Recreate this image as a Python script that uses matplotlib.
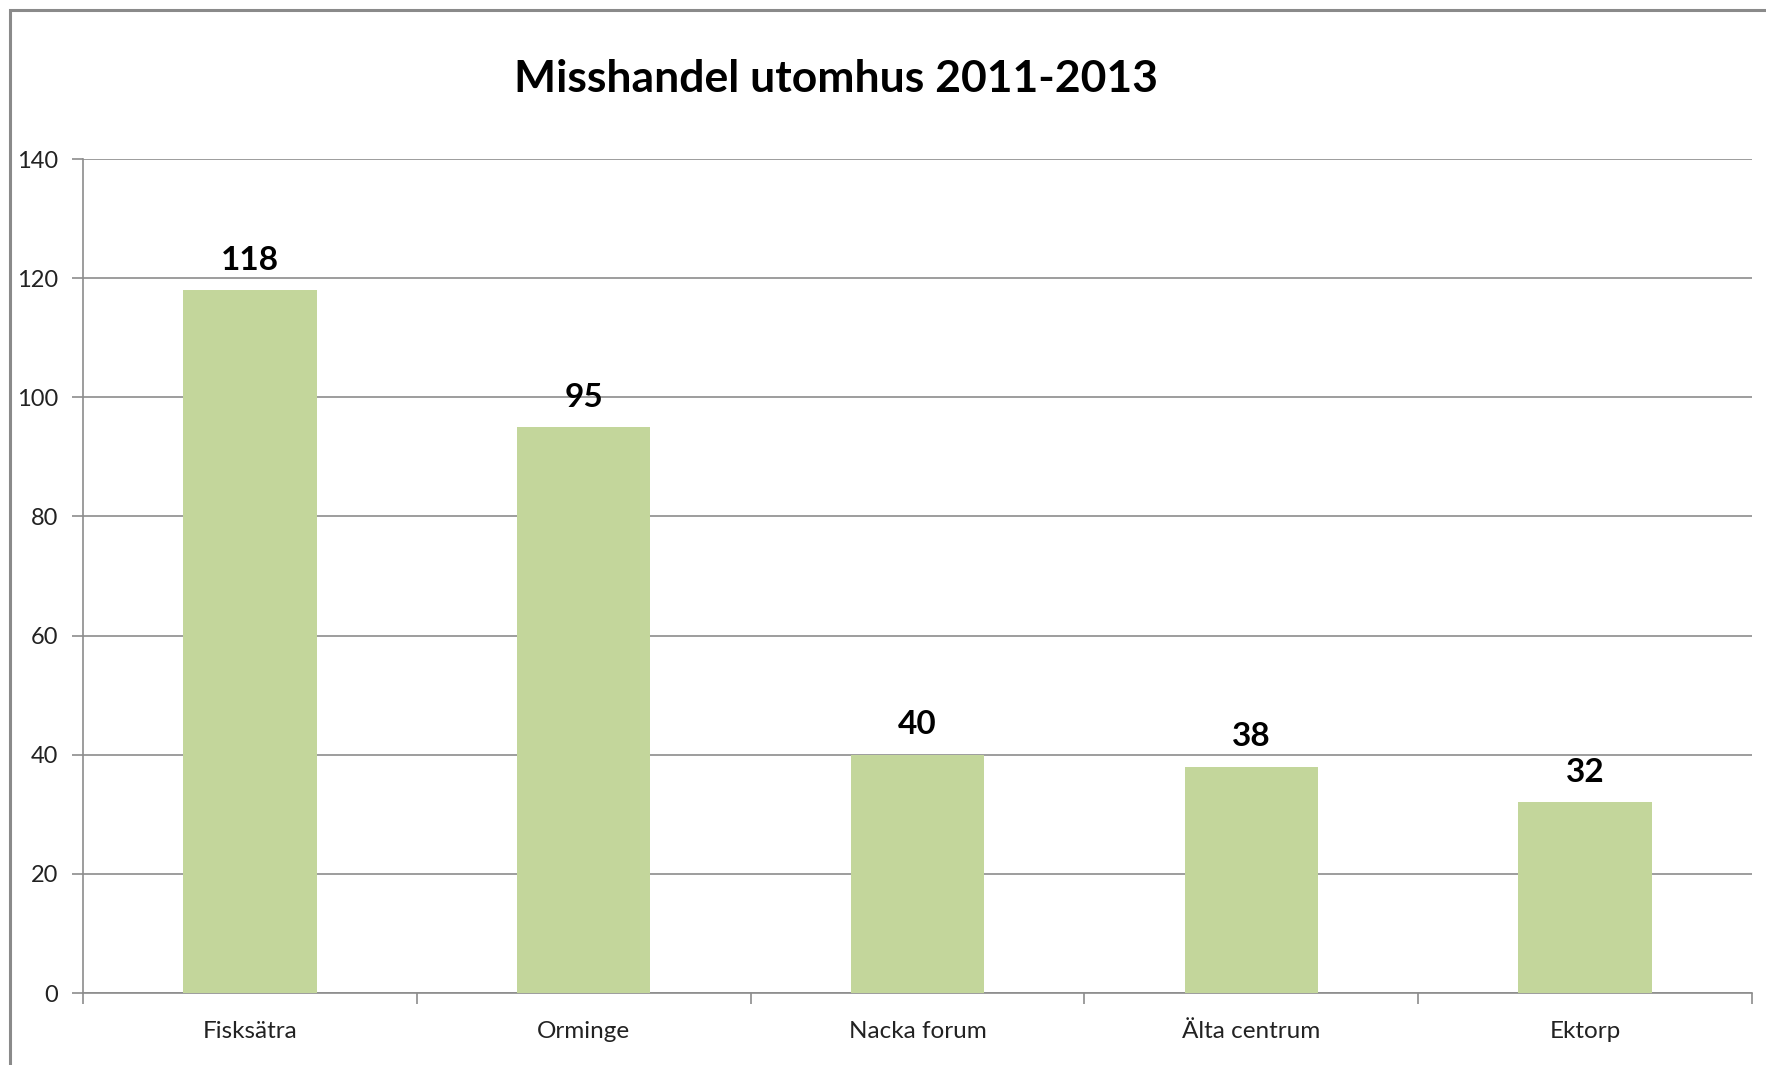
import matplotlib.pyplot as plt
from matplotlib.patches import Rectangle

# Data
omraden = ["Fisksätra", "Orminge", "Nacka forum", "Älta centrum", "Ektorp"]
antal = [118, 95, 40, 38, 32]
y_ticks = [0, 20, 40, 60, 80, 100, 120, 140]

GRID = "#8c8c8c"
BAR = "#c3d69b"

plt.rcParams["font.family"] = ["Lato", "DejaVu Sans"]

fig = plt.figure(figsize=(17.66, 10.65), dpi=100)
ax = fig.add_axes([83 / 1766, 1 - 993 / 1065, (1752 - 83) / 1766, (993 - 159) / 1065])

x = list(range(len(omraden)))
bars = ax.bar(x, antal, width=0.4, color=BAR, zorder=3)

for xi, v in zip(x, antal):
    ax.annotate(str(v), (xi, v), xytext=(0, 11), textcoords="offset points",
                ha="center", va="bottom", fontsize=24, fontweight="bold", color="black")

ax.set_xlim(-0.5, len(omraden) - 0.5)
ax.set_ylim(0, 140)
ax.set_yticks(y_ticks)
ax.set_yticklabels([str(t) for t in y_ticks], fontsize=17, color="#222222")
ax.yaxis.grid(True, color=GRID, linewidth=1.2, zorder=0)

ax.set_xticks(x)
ax.set_xticklabels(omraden, fontsize=17.5, color="#222222")
ax.set_xticks([i - 0.5 for i in range(len(omraden) + 1)], minor=True)
ax.tick_params(axis="x", which="major", length=0, pad=20)
ax.tick_params(axis="x", which="minor", length=8, color=GRID, width=1.2)
ax.tick_params(axis="y", length=8, color=GRID, width=1.2, pad=10)

for s in ["top", "right"]:
    ax.spines[s].set_visible(False)
for s in ["left", "bottom"]:
    ax.spines[s].set_color(GRID)
    ax.spines[s].set_linewidth(1.2)

fig.text(836 / 1766, 1 - 79 / 1065, "Misshandel utomhus 2011-2013",
         ha="center", va="center", fontsize=32, fontweight="bold")

# outer chart frame (right/bottom edges cropped off in original)
fig.patches.append(Rectangle((10 / 1766, -0.1), 1.2, 1 - 10 / 1065 + 0.1,
                             transform=fig.transFigure, fill=False,
                             edgecolor="#8a8a8a", linewidth=2.2))

plt.savefig("out.png", dpi=100)
